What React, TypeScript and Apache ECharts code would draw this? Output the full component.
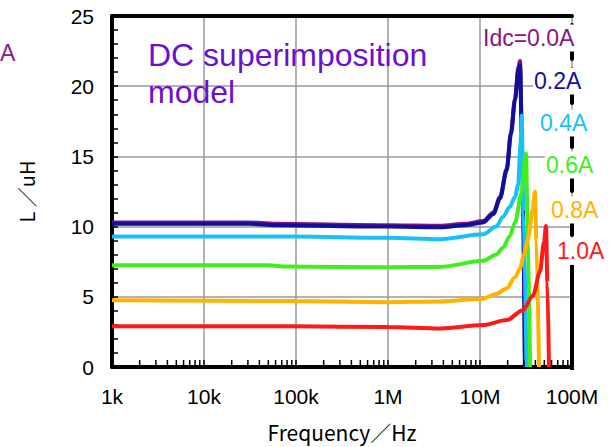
import React, { useEffect, useRef } from "react";
import * as echarts from "echarts";

const xTickLabels: Record<number, string> = { 3: "1k", 4: "10k", 5: "100k", 6: "1M", 7: "10M", 8: "100M" };

const minorFreqs: number[] = [
  2e3, 3e3, 4e3, 5e3, 6e3, 7e3, 8e3, 9e3,
  2e4, 3e4, 4e4, 5e4, 6e4, 7e4, 8e4, 9e4,
  2e5, 3e5, 4e5, 5e5, 6e5, 7e5, 8e5, 9e5,
  2e6, 3e6, 4e6, 5e6, 6e6, 7e6, 8e6, 9e6,
  2e7, 3e7, 4e7, 5e7, 6e7, 7e7, 8e7, 9e7,
];

const idc00: number[][] = [
  [1e3, 10.3], [3e4, 10.3], [6e4, 10.2], [1e6, 10.1], [3.7e6, 10.06], [7e6, 10.2], [1.08e7, 10.4],
  [1.4e7, 11.0], [1.65e7, 12.1], [1.95e7, 14.1], [2.17e7, 16.7], [2.4e7, 19.1],
  [2.62e7, 21.4], [2.72e7, 21.8], [2.9e7, 14], [3.08e7, 0],
];
const idc02: number[][] = [
  [1e3, 10.2], [3e4, 10.2], [6e4, 10.1], [1e6, 10.0], [3.7e6, 9.96], [7e6, 10.1], [1.08e7, 10.3],
  [1.4e7, 10.9], [1.65e7, 12.0], [1.95e7, 14.0], [2.17e7, 16.6], [2.4e7, 19.0],
  [2.62e7, 21.2], [2.72e7, 21.5], [2.9e7, 14], [3.08e7, 0],
];
const idc04: number[][] = [
  [1e3, 9.3], [1e5, 9.3], [1e6, 9.2], [3.7e6, 9.1], [1.08e7, 9.45], [1.5e7, 10.0], [1.78e7, 10.7],
  [2.1e7, 11.4], [2.4e7, 12.1], [2.6e7, 13.0], [2.75e7, 15.8], [2.84e7, 17.9], [2.97e7, 11], [3.2e7, 0],
];
const idc06: number[][] = [
  [1e3, 7.25], [5e4, 7.25], [8e4, 7.15], [1e6, 7.1], [3.7e6, 7.13], [1.08e7, 7.56], [1.5e7, 8.0],
  [1.78e7, 8.5], [2.1e7, 9.3], [2.4e7, 10.3], [2.84e7, 12.4], [2.92e7, 13.3], [3.1e7, 15.0],
  [3.16e7, 15.2], [3.3e7, 10], [3.5e7, 0],
];
const idc08: number[][] = [
  [1e3, 4.75], [1e5, 4.7], [1e6, 4.62], [3.7e6, 4.66], [1.08e7, 4.87], [1.5e7, 5.2], [1.95e7, 5.6],
  [2.4e7, 6.4], [2.72e7, 7.0], [3.0e7, 8.0], [3.31e7, 9.1], [3.74e7, 11.2], [3.96e7, 12.5],
  [4.1e7, 9], [4.38e7, 0],
];
const idc10: number[][] = [
  [1e3, 2.9], [1e5, 2.9], [1e6, 2.85], [3.7e6, 2.75], [1.08e7, 2.99], [1.95e7, 3.34], [2.93e7, 4.05],
  [3.77e7, 5.1], [4.49e7, 6.8], [4.96e7, 8.9], [5.22e7, 10.05], [5.4e7, 6], [5.62e7, 0],
];

const seriesNames = ["Idc=0.0A", "0.2A", "0.4A", "0.6A", "0.8A", "1.0A"];
const seriesData = [idc00, idc02, idc04, idc06, idc08, idc10];
const seriesColors = ["#861486", "#10109a", "#19bff7", "#40ee20", "#ffb300", "#ff1a1a"];

const labelFont = '"Liberation Sans", Arial, sans-serif';
const cjkFont = '"Noto Sans CJK JP", "Liberation Sans", sans-serif';

export default function App() {
  const ref = useRef<HTMLDivElement>(null);
  useEffect(() => {
    const chart = echarts.init(ref.current!, null, { renderer: "svg" });
    const lineSeries = seriesData.map((d, i) => ({
      type: "line",
      name: seriesNames[i],
      data: d,
      showSymbol: false,
      smooth: 0.3,
      smoothMonotone: "x",
      lineStyle: { color: seriesColors[i], width: 4 },
      itemStyle: { color: seriesColors[i] },
      z: 3 + i,
    }));
    const labelPos = [
      [482, 38], [533, 81], [539, 123], [545, 165], [550, 210], [556, 251],
    ];
    const labels = seriesNames.map((n, i) => ({
      type: "text",
      x: labelPos[i][0],
      y: labelPos[i][1],
      z: 100,
      style: {
        text: n,
        fill: seriesColors[i],
        font: `23px ${labelFont}`,
        verticalAlign: "middle",
        backgroundColor: "#fff",
        padding: [2, 1, 2, 1],
      },
    }));
    chart.setOption({
      animation: false,
      backgroundColor: "#fff",
      grid: { left: 112, right: 43, top: 16, bottom: 77 },
      xAxis: [
        {
          type: "log",
          logBase: 10,
          min: 1e3,
          max: 1e8,
          position: "bottom",
          axisLine: { onZero: false, lineStyle: { color: "#000", width: 4 } },
          axisTick: { inside: true, length: 7, lineStyle: { color: "#000", width: 1.5 } },
          axisLabel: {
            fontSize: 21,
            color: "#000",
            fontFamily: labelFont,
            margin: 19,
            formatter: (v: number) => xTickLabels[Math.round(Math.log10(v))] ?? "",
          },
          splitLine: { show: true, lineStyle: { color: "#9a9a9a", width: 1.5 } },
          name: "Frequency／Hz",
          nameLocation: "middle",
          nameGap: 54,
          nameTextStyle: { fontSize: 21, color: "#000", fontFamily: cjkFont },
        },
        {
          type: "log",
          logBase: 10,
          min: 1e3,
          max: 1e8,
          position: "top",
          axisLine: { onZero: false, lineStyle: { color: "#000", width: 4 } },
          axisTick: { show: false },
          axisLabel: { show: false },
          splitLine: { show: false },
        },
      ],
      yAxis: [
        {
          type: "value",
          min: 0,
          max: 25,
          interval: 5,
          axisLine: { show: true, onZero: false, lineStyle: { color: "#000", width: 4 } },
          axisTick: { show: true, inside: true, length: 6, lineStyle: { color: "#000", width: 1.5 } },
          minorTick: { show: true, splitNumber: 5, length: 6, lineStyle: { color: "#000", width: 1.5 } },
          axisLabel: { fontSize: 21, color: "#000", fontFamily: labelFont, margin: 18 },
          splitLine: { show: true, lineStyle: { color: "#9a9a9a", width: 1.5 } },
          name: "L ／uH",
          nameLocation: "middle",
          nameGap: 76,
          nameRotate: 90,
          nameTextStyle: { fontSize: 20, color: "#000", fontFamily: cjkFont },
        },
        {
          type: "value",
          min: 0,
          max: 25,
          interval: 5,
          position: "right",
          axisLine: { show: true, onZero: false, lineStyle: { color: "#000", width: 4, type: [12, 10] } },
          axisTick: { show: false },
          axisLabel: { show: false },
          splitLine: { show: false },
        },
      ],
      series: [
        {
          type: "custom",
          xAxisIndex: 0,
          yAxisIndex: 0,
          data: minorFreqs.map((f) => [f, 0]),
          z: 10,
          silent: true,
          renderItem: (params: any, api: any) => {
            const p = api.coord([api.value(0), 0]);
            return {
              type: "line",
              shape: { x1: p[0], y1: p[1] - 1, x2: p[0], y2: p[1] - 7 },
              style: { stroke: "#000", lineWidth: 1.5 },
            };
          },
        },
        ...lineSeries,
      ],
      graphic: [
        {
          type: "line",
          z: 50,
          shape: { x1: 572, y1: 265, x2: 572, y2: 370 },
          style: { stroke: "#000", lineWidth: 4 },
        },
        {
          type: "text",
          x: 148,
          y: 36,
          z: 60,
          style: {
            text: "DC superimposition\nmodel",
            fill: "#6a10d0",
            font: `32px ${labelFont}`,
            lineHeight: 37,
            verticalAlign: "top",
          },
        },
        {
          type: "text",
          x: 0,
          y: 53,
          z: 60,
          style: { text: "A", fill: "#8b1a8b", font: `23px ${labelFont}`, verticalAlign: "middle" },
        },
        ...labels,
      ],
    });
    return () => chart.dispose();
  }, []);
  return <div ref={ref} style={{ width: 615, height: 447, position: "absolute", left: 0, top: 0 }} />;
}
